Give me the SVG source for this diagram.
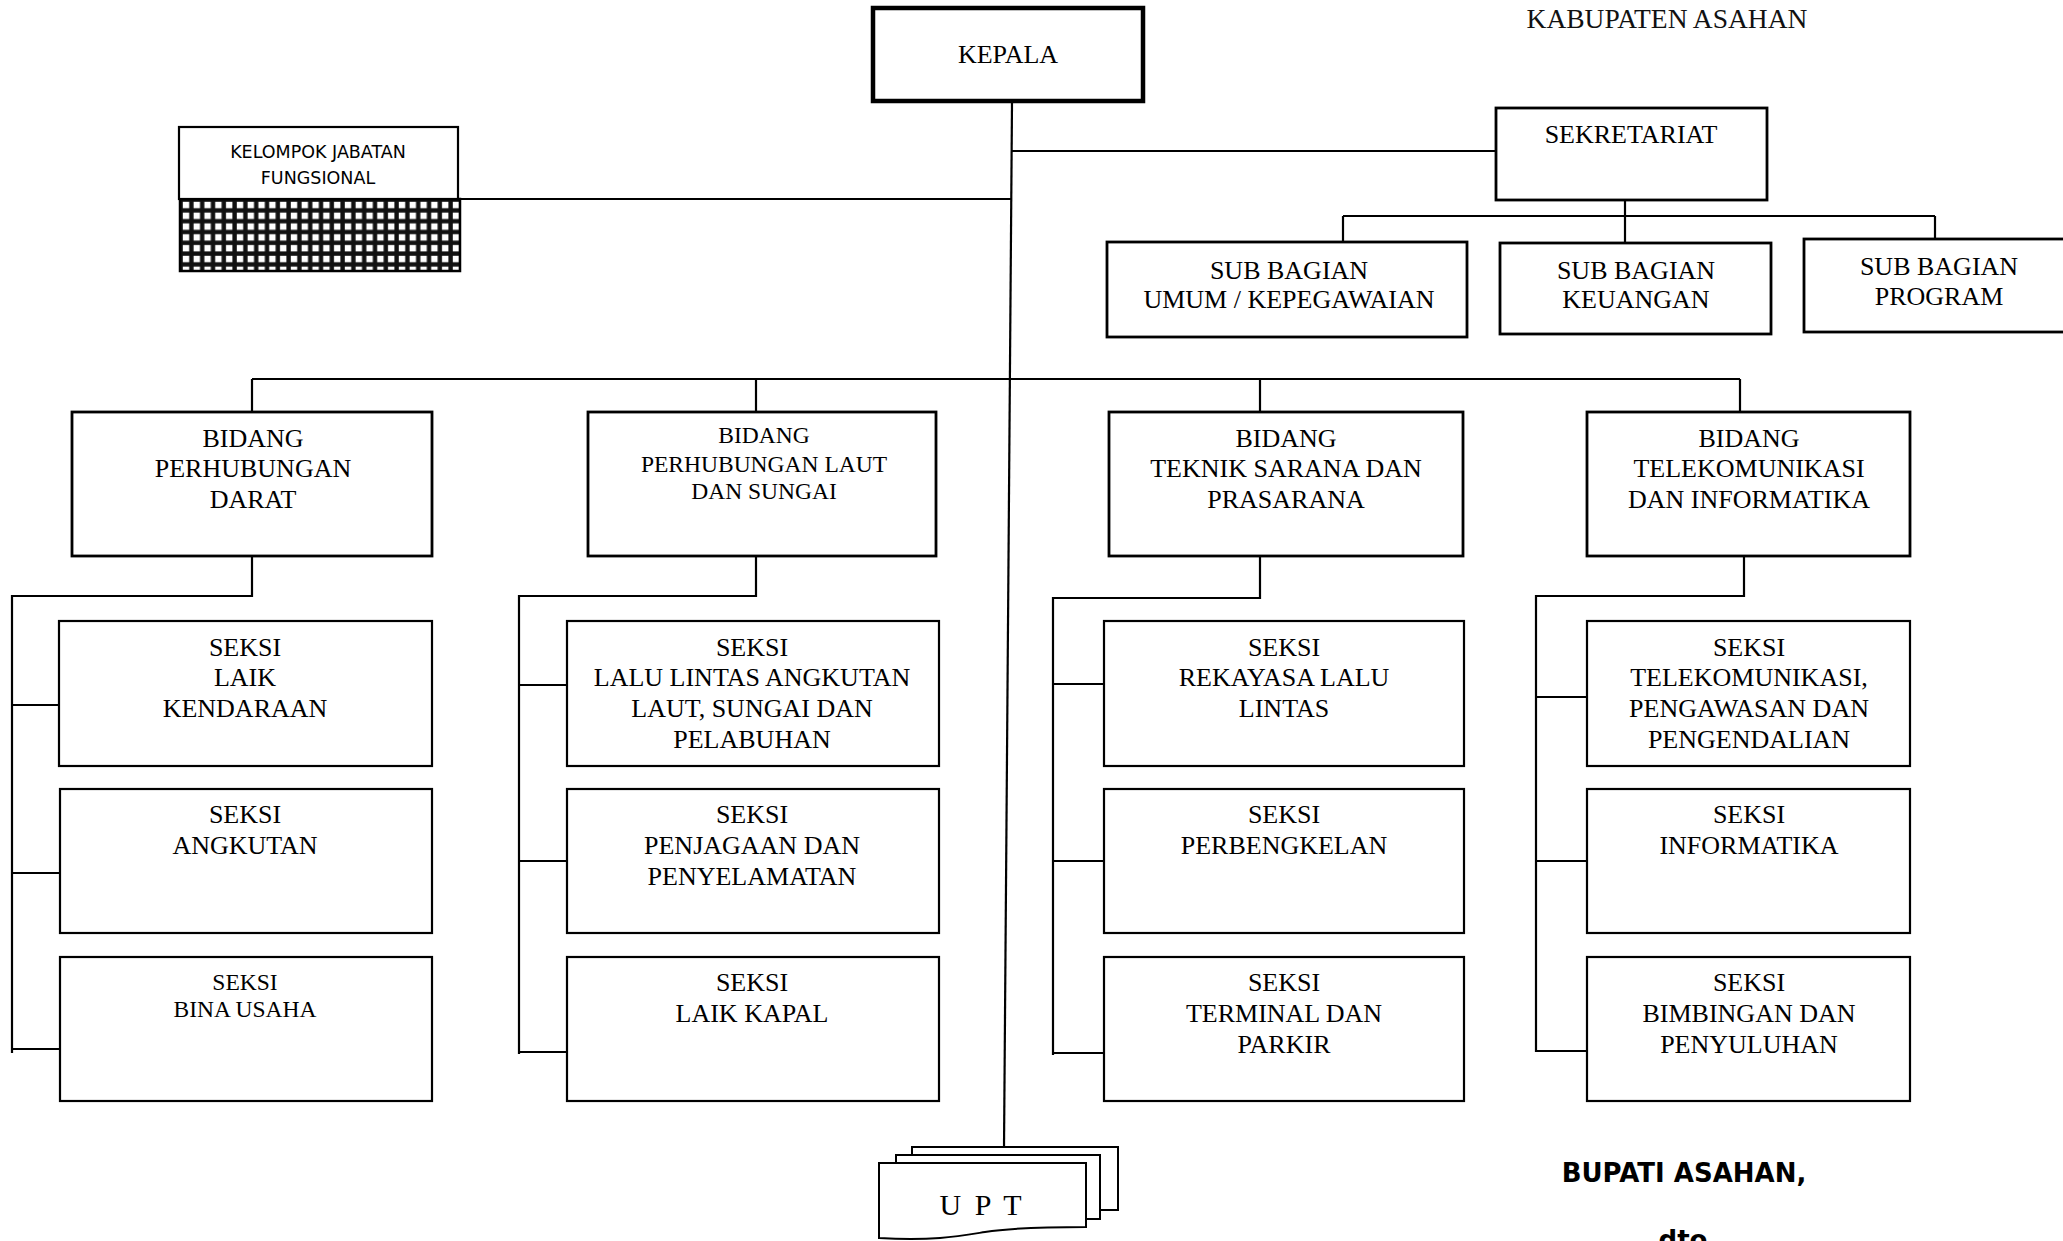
<svg xmlns="http://www.w3.org/2000/svg" width="2063" height="1241" viewBox="0 0 2063 1241">
  <style>
    .bg { fill: #ffffff; }
    .box { fill: #ffffff; stroke: #000; stroke-width: 2.2; }
    .bid { fill: #ffffff; stroke: #000; stroke-width: 2.8; }
    .head { fill: #ffffff; stroke: #000; stroke-width: 4.5; }
    .sheet { fill: #ffffff; stroke: #000; stroke-width: 2; }
    .t { font-family: "Liberation Serif", "Times New Roman", serif; font-size: 26px; fill: #000; text-anchor: middle; }
    .ts { font-family: "Liberation Serif", "Times New Roman", serif; font-size: 23.5px; fill: #000; text-anchor: middle; }
    .sans { font-family: "DejaVu Sans", "Verdana", sans-serif; font-size: 17.5px; fill: #000; text-anchor: middle; }
    .bold { font-family: "DejaVu Sans", "Verdana", sans-serif; font-size: 26px; font-weight: bold; fill: #000; text-anchor: middle; }
    .conn line, .conn polyline { stroke: #000; stroke-width: 2.2; fill: none; }
  </style>
  <defs>
    <pattern id="grid" x="180" y="199" width="10.8" height="10.8" patternUnits="userSpaceOnUse">
      <rect width="10.8" height="10.8" fill="#111"/>
      <rect x="2.8" y="2.8" width="6.4" height="6.4" fill="#fff"/>
    </pattern>
  </defs>

  <rect class="bg" x="0" y="0" width="2063" height="1241"/>

  <!-- heading -->
  <text x="1667" y="28" font-family="Liberation Serif, Times New Roman, serif" font-size="27.5" fill="#111" text-anchor="middle">KABUPATEN ASAHAN</text>

  <!-- connectors -->
  <g id="connectors" class="conn">
    <line x1="1012" y1="103" x2="1004" y2="1148"/>
    <line x1="1011" y1="151" x2="1496" y2="151"/>
    <line x1="458" y1="199" x2="1011" y2="199"/>
    <line x1="1625" y1="200" x2="1625" y2="243"/>
    <line x1="1343" y1="216" x2="1935" y2="216"/>
    <line x1="1343" y1="216" x2="1343" y2="242"/>
    <line x1="1935" y1="216" x2="1935" y2="239"/>

    <line x1="252" y1="379" x2="1740" y2="379"/>
    <line x1="252" y1="379" x2="252" y2="412"/>
    <line x1="756" y1="379" x2="756" y2="412"/>
    <line x1="1260" y1="379" x2="1260" y2="412"/>
    <line x1="1740" y1="379" x2="1740" y2="412"/>

    <polyline points="252,556 252,596 12,596 12,1053"/>
    <line x1="12" y1="705" x2="59" y2="705"/>
    <line x1="12" y1="873" x2="60" y2="873"/>
    <line x1="12" y1="1049" x2="60" y2="1049"/>

    <polyline points="756,556 756,596 519,596 519,1054"/>
    <line x1="519" y1="685" x2="570" y2="685"/>
    <line x1="519" y1="861" x2="567" y2="861"/>
    <line x1="519" y1="1052" x2="567" y2="1052"/>

    <polyline points="1260,556 1260,598 1053,598 1053,1055"/>
    <line x1="1053" y1="684" x2="1104" y2="684"/>
    <line x1="1053" y1="861" x2="1104" y2="861"/>
    <line x1="1053" y1="1053" x2="1104" y2="1053"/>

    <polyline points="1744,556 1744,596 1536,596 1536,1052"/>
    <line x1="1536" y1="697" x2="1587" y2="697"/>
    <line x1="1536" y1="861" x2="1588" y2="861"/>
    <line x1="1536" y1="1051" x2="1587" y2="1051"/>
  </g>

  <!-- top level -->
  <g id="kepala">
    <rect class="head" x="873" y="8" width="270" height="93"/>
    <text class="t" x="1008" y="63">KEPALA</text>
  </g>

  <g id="kelompok-jabatan-fungsional">
    <rect x="180" y="199" width="280" height="72" fill="url(#grid)" stroke="#000" stroke-width="2.5"/>
    <rect class="box" x="179" y="127" width="279" height="72"/>
    <text class="sans" x="318" y="158">KELOMPOK JABATAN</text>
    <text class="sans" x="318" y="184">FUNGSIONAL</text>
  </g>

  <g id="sekretariat">
    <rect class="bid" x="1496" y="108" width="271" height="92"/>
    <text class="t" x="1631" y="143">SEKRETARIAT</text>
  </g>

  <g id="subbag-umum">
    <rect class="bid" x="1107" y="242" width="360" height="95"/>
    <text class="t" x="1289" y="279">SUB BAGIAN</text>
    <text class="t" x="1289" y="308">UMUM / KEPEGAWAIAN</text>
  </g>
  <g id="subbag-keuangan">
    <rect class="bid" x="1500" y="243" width="271" height="91"/>
    <text class="t" x="1636" y="279">SUB BAGIAN</text>
    <text class="t" x="1636" y="308">KEUANGAN</text>
  </g>
  <g id="subbag-program">
    <rect class="bid" x="1804" y="239" width="270" height="93"/>
    <text class="t" x="1939" y="275">SUB BAGIAN</text>
    <text class="t" x="1939" y="305">PROGRAM</text>
  </g>

  <!-- bidang -->
  <g id="bidang-darat">
    <rect class="bid" x="72" y="412" width="360" height="144"/>
    <text class="t" x="253" y="447">BIDANG</text>
    <text class="t" x="253" y="477">PERHUBUNGAN</text>
    <text class="t" x="253" y="508">DARAT</text>
  </g>
  <g id="bidang-laut">
    <rect class="bid" x="588" y="412" width="348" height="144"/>
    <text class="ts" x="764" y="443">BIDANG</text>
    <text class="ts" x="764" y="472">PERHUBUNGAN LAUT</text>
    <text class="ts" x="764" y="499">DAN SUNGAI</text>
  </g>
  <g id="bidang-teknik">
    <rect class="bid" x="1109" y="412" width="354" height="144"/>
    <text class="t" x="1286" y="447">BIDANG</text>
    <text class="t" x="1286" y="477">TEKNIK SARANA DAN</text>
    <text class="t" x="1286" y="508">PRASARANA</text>
  </g>
  <g id="bidang-telekomunikasi">
    <rect class="bid" x="1587" y="412" width="323" height="144"/>
    <text class="t" x="1749" y="447">BIDANG</text>
    <text class="t" x="1749" y="477">TELEKOMUNIKASI</text>
    <text class="t" x="1749" y="508">DAN INFORMATIKA</text>
  </g>

  <!-- seksi: perhubungan darat -->
  <g id="seksi-laik-kendaraan">
    <rect class="box" x="59" y="621" width="373" height="145"/>
    <text class="t" x="245" y="656">SEKSI</text>
    <text class="t" x="245" y="686">LAIK</text>
    <text class="t" x="245" y="717">KENDARAAN</text>
  </g>
  <g id="seksi-angkutan">
    <rect class="box" x="60" y="789" width="372" height="144"/>
    <text class="t" x="245" y="823">SEKSI</text>
    <text class="t" x="245" y="854">ANGKUTAN</text>
  </g>
  <g id="seksi-bina-usaha">
    <rect class="box" x="60" y="957" width="372" height="144"/>
    <text class="ts" x="245" y="990">SEKSI</text>
    <text class="ts" x="245" y="1017">BINA USAHA</text>
  </g>

  <!-- seksi: perhubungan laut dan sungai -->
  <g id="seksi-lalu-lintas-angkutan-laut">
    <rect class="box" x="567" y="621" width="372" height="145"/>
    <text class="t" x="752" y="656">SEKSI</text>
    <text class="t" x="752" y="686">LALU LINTAS ANGKUTAN</text>
    <text class="t" x="752" y="717">LAUT, SUNGAI DAN</text>
    <text class="t" x="752" y="748">PELABUHAN</text>
  </g>
  <g id="seksi-penjagaan">
    <rect class="box" x="567" y="789" width="372" height="144"/>
    <text class="t" x="752" y="823">SEKSI</text>
    <text class="t" x="752" y="854">PENJAGAAN DAN</text>
    <text class="t" x="752" y="885">PENYELAMATAN</text>
  </g>
  <g id="seksi-laik-kapal">
    <rect class="box" x="567" y="957" width="372" height="144"/>
    <text class="t" x="752" y="991">SEKSI</text>
    <text class="t" x="752" y="1022">LAIK KAPAL</text>
  </g>

  <!-- seksi: teknik sarana dan prasarana -->
  <g id="seksi-rekayasa">
    <rect class="box" x="1104" y="621" width="360" height="145"/>
    <text class="t" x="1284" y="656">SEKSI</text>
    <text class="t" x="1284" y="686">REKAYASA LALU</text>
    <text class="t" x="1284" y="717">LINTAS</text>
  </g>
  <g id="seksi-perbengkelan">
    <rect class="box" x="1104" y="789" width="360" height="144"/>
    <text class="t" x="1284" y="823">SEKSI</text>
    <text class="t" x="1284" y="854">PERBENGKELAN</text>
  </g>
  <g id="seksi-terminal">
    <rect class="box" x="1104" y="957" width="360" height="144"/>
    <text class="t" x="1284" y="991">SEKSI</text>
    <text class="t" x="1284" y="1022">TERMINAL DAN</text>
    <text class="t" x="1284" y="1053">PARKIR</text>
  </g>

  <!-- seksi: telekomunikasi dan informatika -->
  <g id="seksi-telekomunikasi">
    <rect class="box" x="1587" y="621" width="323" height="145"/>
    <text class="t" x="1749" y="656">SEKSI</text>
    <text class="t" x="1749" y="686">TELEKOMUNIKASI,</text>
    <text class="t" x="1749" y="717">PENGAWASAN DAN</text>
    <text class="t" x="1749" y="748">PENGENDALIAN</text>
  </g>
  <g id="seksi-informatika">
    <rect class="box" x="1587" y="789" width="323" height="144"/>
    <text class="t" x="1749" y="823">SEKSI</text>
    <text class="t" x="1749" y="854">INFORMATIKA</text>
  </g>
  <g id="seksi-bimbingan">
    <rect class="box" x="1587" y="957" width="323" height="144"/>
    <text class="t" x="1749" y="991">SEKSI</text>
    <text class="t" x="1749" y="1022">BIMBINGAN DAN</text>
    <text class="t" x="1749" y="1053">PENYULUHAN</text>
  </g>

  <!-- UPT: stacked document shape -->
  <g id="upt">
    <rect class="sheet" x="912" y="1147" width="206" height="63"/>
    <rect class="sheet" x="896" y="1155" width="204" height="64"/>
    <path class="sheet" d="M879,1163 L1086,1163 L1086,1227 C1050,1227 1010,1228 985,1232 C960,1236 935,1241 879,1238 Z"/>
    <text x="982" y="1215" font-family="Liberation Serif, Times New Roman, serif" font-size="30" letter-spacing="3" fill="#000" text-anchor="middle">U P T</text>
  </g>

  <!-- signature -->
  <text class="bold" x="1684" y="1182">BUPATI ASAHAN,</text>
  <text class="bold" x="1683" y="1249">dto</text>
</svg>
